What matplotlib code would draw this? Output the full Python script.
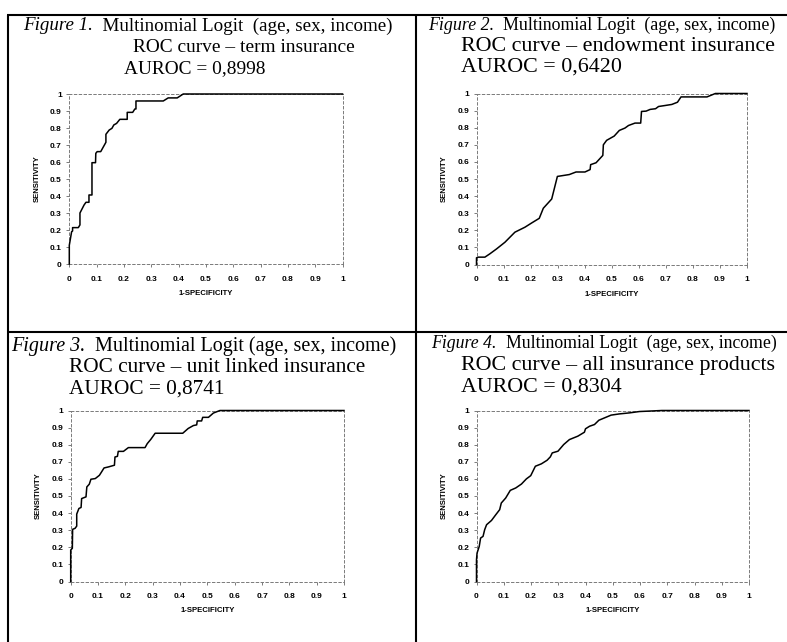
import matplotlib
matplotlib.use("Agg")
import matplotlib.pyplot as plt
from matplotlib.lines import Line2D

W, H = 787, 642

# ---------------- data ----------------
fpr_term = [0, 0, 0.0085, 0.012, 0.012, 0.033, 0.039, 0.039, 0.054, 0.061, 0.072, 0.072, 0.083, 0.083,
            0.096, 0.097, 0.102, 0.115, 0.134, 0.134, 0.146, 0.156, 0.163, 0.173, 0.185, 0.212, 0.212,
            0.232, 0.240, 0.244, 0.244, 0.344, 0.362, 0.395, 0.417, 1.0]
tpr_term = [0, 0.11, 0.19, 0.194, 0.214, 0.214, 0.23, 0.30, 0.347, 0.363, 0.363, 0.406, 0.406, 0.596,
            0.596, 0.651, 0.661, 0.661, 0.716, 0.763, 0.788, 0.798, 0.818, 0.827, 0.851, 0.851, 0.892,
            0.892, 0.912, 0.912, 0.959, 0.959, 0.977, 0.977, 1.0, 1.0]

fpr_endow = [0, 0, 0.006, 0.031, 0.049, 0.074, 0.105, 0.142, 0.179, 0.204, 0.232, 0.247, 0.278, 0.299,
             0.343, 0.368, 0.401, 0.420, 0.422, 0.442, 0.467, 0.469, 0.481, 0.509, 0.528, 0.549, 0.562,
             0.586, 0.607, 0.610, 0.627, 0.642, 0.662, 0.673, 0.698, 0.722, 0.743, 0.756, 0.852, 0.883, 1.0]
tpr_endow = [0, 0.039, 0.043, 0.043, 0.062, 0.091, 0.130, 0.189, 0.218, 0.243, 0.270, 0.329, 0.383, 0.515,
             0.526, 0.541, 0.541, 0.555, 0.584, 0.595, 0.638, 0.700, 0.726, 0.751, 0.784, 0.798, 0.813,
             0.827, 0.827, 0.895, 0.897, 0.907, 0.911, 0.924, 0.930, 0.936, 0.949, 0.980, 0.980, 1.0, 1.0]

fpr_unit = [0, 0, 0.006, 0.007, 0.016, 0.022, 0.022, 0.030, 0.038, 0.040, 0.056, 0.059, 0.068, 0.074,
            0.090, 0.105, 0.113, 0.122, 0.138, 0.160, 0.162, 0.171, 0.174, 0.193, 0.211, 0.272, 0.280,
            0.293, 0.309, 0.410, 0.430, 0.449, 0.461, 0.463, 0.479, 0.483, 0.504, 0.522, 0.546, 1.0]
tpr_unit = [0, 0.184, 0.194, 0.305, 0.311, 0.324, 0.394, 0.427, 0.433, 0.485, 0.495, 0.553, 0.569, 0.598,
            0.602, 0.621, 0.641, 0.664, 0.670, 0.680, 0.728, 0.732, 0.761, 0.761, 0.783, 0.783, 0.806,
            0.831, 0.867, 0.867, 0.895, 0.912, 0.916, 0.939, 0.939, 0.960, 0.960, 0.985, 1.0, 1.0]

fpr_all = [0, 0, 0.002, 0.010, 0.015, 0.024, 0.030, 0.037, 0.055, 0.071, 0.085, 0.091, 0.107, 0.124,
           0.144, 0.165, 0.183, 0.199, 0.216, 0.238, 0.259, 0.271, 0.278, 0.299, 0.320, 0.341, 0.372,
           0.396, 0.400, 0.415, 0.433, 0.449, 0.470, 0.494, 0.524, 0.561, 0.598, 0.640, 0.680, 1.0]
tpr_all = [0, 0.127, 0.166, 0.205, 0.254, 0.264, 0.303, 0.332, 0.357, 0.391, 0.420, 0.459, 0.488, 0.533,
           0.547, 0.570, 0.600, 0.619, 0.674, 0.688, 0.709, 0.729, 0.752, 0.762, 0.801, 0.830, 0.850,
           0.873, 0.893, 0.908, 0.918, 0.943, 0.957, 0.973, 0.980, 0.986, 0.994, 0.997, 1.0, 1.0]

tick_vals = [0, 0.1, 0.2, 0.3, 0.4, 0.5, 0.6, 0.7, 0.8, 0.9, 1]
tick_labels = ["0", "0.1", "0.2", "0.3", "0.4", "0.5", "0.6", "0.7", "0.8", "0.9", "1"]

fig_nums = ["Figure 1.", "Figure 2.", "Figure 3.", "Figure 4."]
line1 = ["  Multinomial Logit  (age, sex, income)", "  Multinomial Logit  (age, sex, income)",
         "  Multinomial Logit (age, sex, income)", "  Multinomial Logit  (age, sex, income)"]
line2 = ["ROC curve \u2013 term insurance", "ROC curve \u2013 endowment insurance",
         "ROC curve \u2013 unit linked insurance", "ROC curve \u2013 all insurance products"]
line3 = ["AUROC = 0,8998", "AUROC = 0,6420", "AUROC = 0,8741", "AUROC = 0,8304"]

series = [(fpr_term, tpr_term), (fpr_endow, tpr_endow), (fpr_unit, tpr_unit), (fpr_all, tpr_all)]

# ---------------- layout (pixels) ----------------
axes_px = [(69.3, 342.5, 94.0, 264.0),
           (476.5, 747.0, 93.5, 264.5),
           (70.7, 344.0, 410.5, 581.5),
           (476.5, 749.0, 410.5, 581.5)]
# line1: (x0, x1, baseline); line2: (x0, x1, baseline); line3: (x0, baseline)
text_px = [
    [(22.7, 391.7, 30.5), (132.7, 354.0, 52.5), (124.0, 73.5)],
    [(428.3, 776.0, 30.0), (461.0, 775.0, 51.0), (461.0, 71.5)],
    [(10.7, 396.7, 350.5), (69.3, 366.7, 372.5), (69.3, 394.0)],
    [(431.0, 777.0, 348.0), (461.0, 776.7, 370.0), (461.0, 391.5)],
]

fig = plt.figure(figsize=(W / 100, H / 100), dpi=100)
fig.patch.set_facecolor("white")
renderer = fig.canvas.get_renderer()

SERIF = "Liberation Serif"
SANS = "Liberation Sans"


def fig_line(x0, y0, x1, y1, lw=1.5):
    fig.add_artist(Line2D([x0 / W, x1 / W], [1 - y0 / H, 1 - y1 / H], transform=fig.transFigure,
                          color="black", lw=lw, solid_capstyle="butt"))


# table grid
fig_line(7, 15, W, 15)
fig_line(8, 15, 8, H)
fig_line(415.7, 15, 415.7, H)
fig_line(8, 331.7, W, 331.7)


def fit_text(x0, x1, base, pieces):
    widths = []
    for s, st in pieces:
        t = fig.text(0, 0, s, fontsize=10, family=SERIF, style=st)
        widths.append(t.get_window_extent(renderer).width)
        t.remove()
    fs = 10 * (x1 - x0) / sum(widths)
    x = x0
    for (s, st), w in zip(pieces, widths):
        fig.text(x / W, 1 - base / H, s, fontsize=fs, family=SERIF, style=st,
                 ha="left", va="baseline")
        x += w * fs / 10
    return fs


TICK_FS = 6.0
LAB_FS = 5.6

for i in range(4):
    (a0, a1, b0), (c0, c1, d0), (e0, f0) = text_px[i]
    fit_text(a0, a1, b0, [(fig_nums[i], "italic"), (line1[i], "normal")])
    fs2 = fit_text(c0, c1, d0, [(line2[i], "normal")])
    fig.text(e0 / W, 1 - f0 / H, line3[i], fontsize=fs2, family=SERIF, ha="left", va="baseline")

    l, r, t, b = axes_px[i]
    ax = fig.add_axes([l / W, 1 - b / H, (r - l) / W, (b - t) / H])
    fx, ty = series[i]
    ax.plot(fx, ty, color="black", lw=1.1, clip_on=False, zorder=5)
    ax.set_xlim(0, 1)
    ax.set_ylim(0, 1)
    ax.set_xticks(tick_vals)
    ax.set_xticklabels(tick_labels)
    ax.set_yticks(tick_vals)
    ax.set_yticklabels(tick_labels)
    for sp in ax.spines.values():
        sp.set_color("#7a7a7a")
        sp.set_linewidth(0.7)
        sp.set_linestyle((0, (2.5, 2.5)))
    ax.tick_params(axis="both", direction="out", length=2, width=0.7, color="#7a7a7a",
                   labelsize=TICK_FS, labelcolor="black")
    ax.tick_params(axis="x", pad=6.3)
    ax.tick_params(axis="y", pad=3.4)
    for lab in ax.get_xticklabels() + ax.get_yticklabels():
        lab.set_fontfamily(SANS)
        lab.set_fontweight("bold")
    ax.set_xlabel("1-SPECIFICITY", fontsize=LAB_FS, fontweight="bold", family=SANS)
    ax.set_ylabel("SENSITIVITY", fontsize=LAB_FS, fontweight="bold", family=SANS)
    ax.xaxis.set_label_coords(0.5, -29.5 / (b - t))
    ax.yaxis.set_label_coords(-32.0 / (r - l), 0.5)
    ax.xaxis.label.set_va("center")
    ax.yaxis.label.set_va("center")
    ax.set_facecolor("white")

fig.savefig("out.png", dpi=100, facecolor="white")
